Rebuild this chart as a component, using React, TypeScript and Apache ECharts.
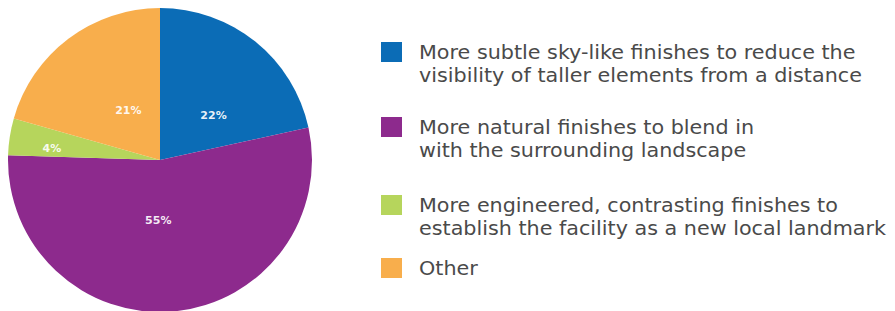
import React, { useEffect, useRef } from "react";
import * as echarts from "echarts";

const categories = [
  "More subtle sky-like finishes to reduce the\nvisibility of taller elements from a distance",
  "More natural finishes to blend in\nwith the surrounding landscape",
  "More engineered, contrasting finishes to\nestablish the facility as a new local landmark",
  "Other",
];
const values = [22, 55, 4, 21];
const colors = ["#0b6cb6", "#8d2a8d", "#b6d55c", "#f8ae4c"];
const labelOffsets = [[4, 17], [-9, -18], [-30, 1], [16, 14]];
const legendIconTops = [42, 117, 195, 258];

export default function App() {
  const ref = useRef<HTMLDivElement>(null);
  useEffect(() => {
    const chart = echarts.init(ref.current!, null, { renderer: "svg" });
    const font = "DejaVu Sans";
    const legendGraphics: any[] = [];
    categories.forEach((name, i) => {
      const top = legendIconTops[i];
      legendGraphics.push({
        type: "rect",
        shape: { x: 381, y: top, width: 21, height: 20 },
        style: { fill: colors[i] },
        silent: true,
      });
      legendGraphics.push({
        type: "text",
        x: 419,
        y: top - 1,
        scaleX: 1.09,
        style: {
          text: name,
          fontFamily: font,
          fontSize: 19,
          lineHeight: 23,
          fill: "#4a4a4a",
          verticalAlign: "top",
          align: "left",
        },
        silent: true,
      });
    });
    chart.setOption({
      animation: false,
      backgroundColor: "#ffffff",
      color: colors,
      graphic: legendGraphics,
      series: [
        {
          type: "pie",
          center: [160, 160],
          radius: [0, 152],
          startAngle: 90,
          clockwise: true,
          silent: true,
          label: {
            show: true,
            position: "inside",
            formatter: "{c}%",
            color: "rgba(255,255,255,0.92)",
            fontFamily: font,
            fontWeight: "bold",
            fontSize: 11,
          },
          labelLine: { show: false },
          itemStyle: { borderWidth: 0 },
          data: categories.map((name, i) => ({
            name,
            value: values[i],
            label: { offset: labelOffsets[i] },
          })),
        },
      ],
    });
    return () => chart.dispose();
  }, []);
  return (
    <div
      ref={ref}
      style={{ position: "fixed", left: 0, top: 0, width: 895, height: 311 }}
    />
  );
}
